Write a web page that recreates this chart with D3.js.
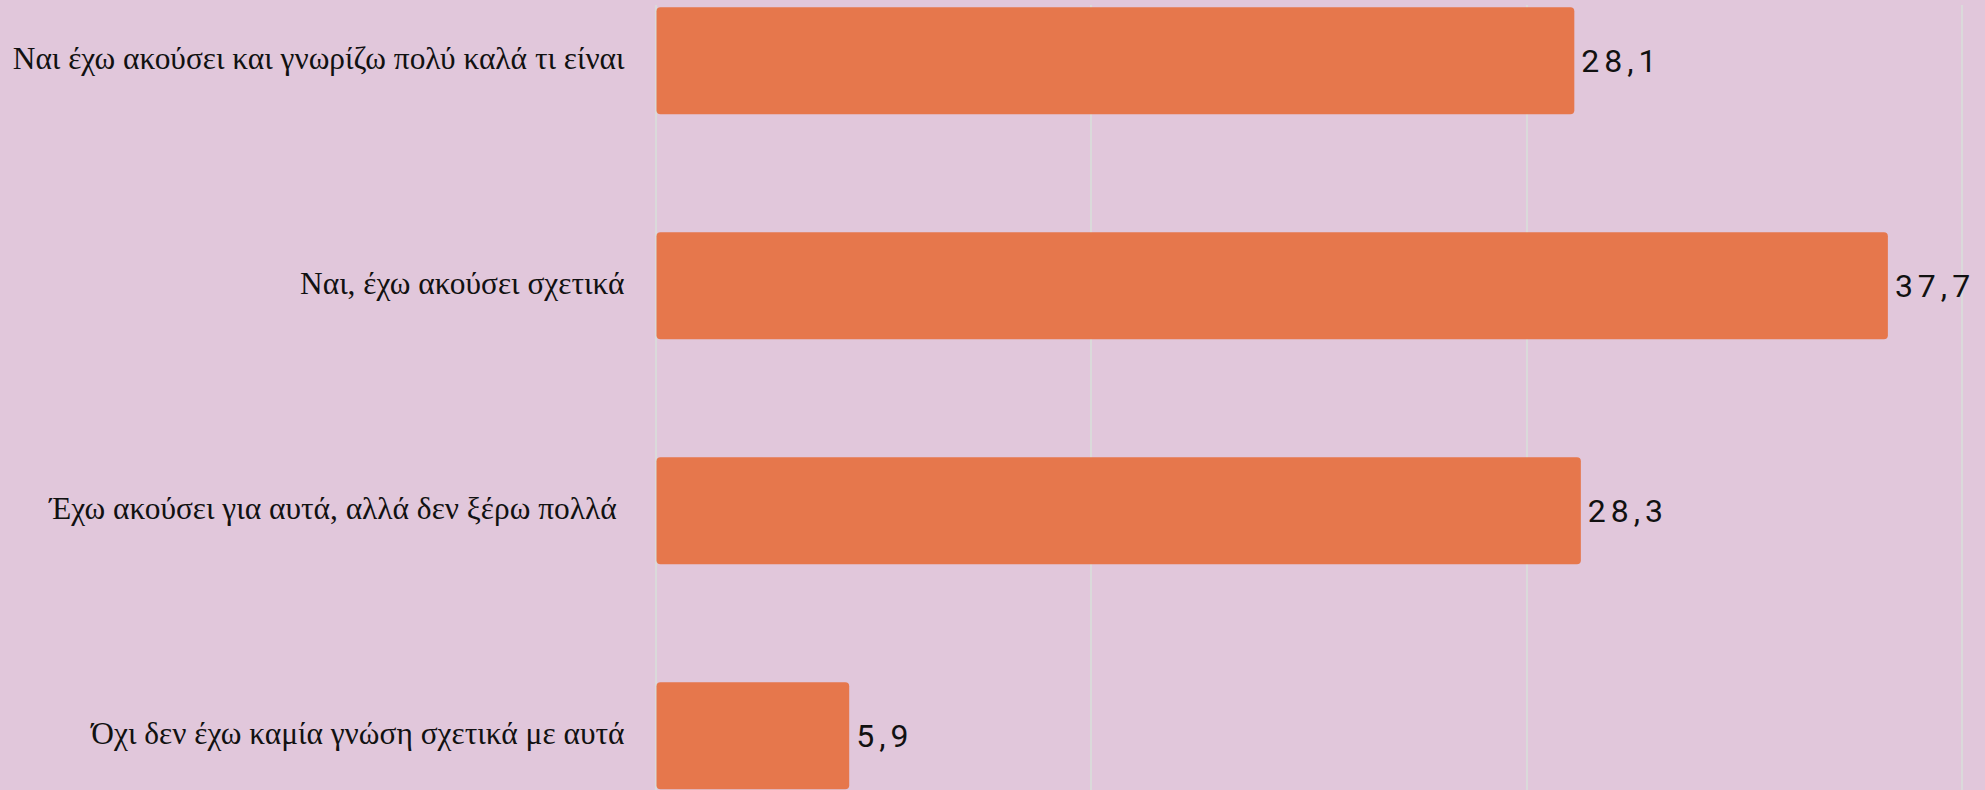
<!DOCTYPE html>
<html lang="el">
<head>
    <meta charset="UTF-8">
    <title>Chart</title>
    <script src="https://cdn.jsdelivr.net/npm/d3@7"></script>
    <style>
        html, body { margin: 0; padding: 0; background: #e1c7db; }
        svg { display: block; }
    </style>
</head>
<body>
    <svg width="1985" height="790"></svg>

    <script>
        // answers and shares (%)
        var categories = [
            "Ναι έχω ακούσει και γνωρίζω πολύ καλά τι είναι",
            "Ναι, έχω ακούσει σχετικά",
            "Έχω ακούσει για αυτά, αλλά δεν ξέρω πολλά ",
            "Όχι δεν έχω καμία γνώση σχετικά με αυτά"
        ];
        var values = [28.1, 37.7, 28.3, 5.9];
        var valueLabels = ["28,1", "37,7", "28,3", "5,9"];
        var gridTicks = [0, 40 / 3, 80 / 3, 40];

        var svg = d3.select("svg"),
            width = +svg.attr("width"),
            height = +svg.attr("height");

        var left = 656.5, right = 1963;

        var x = d3.scaleLinear().domain([0, 40]).range([left, right]);
        // step 225, bar 107 high
        var y = d3.scaleBand()
            .domain(categories)
            .range([7.3, 7.3 + 3 * 225 + 107])
            .paddingInner(1 - 107 / 225)
            .paddingOuter(0);

        // vertical grid
        svg.append("g")
            .selectAll("line")
            .data(gridTicks)
            .enter().append("line")
              .attr("x1", function(d) { return Math.round(x(d)) - 1; })
              .attr("x2", function(d) { return Math.round(x(d)) - 1; })
              .attr("y1", 5)
              .attr("y2", height)
              .attr("stroke", "#dadada")
              .attr("stroke-width", 2);

        // bars
        svg.append("g")
            .selectAll("rect")
            .data(values)
            .enter().append("rect")
              .attr("x", x(0))
              .attr("y", function(d, i) { return y(categories[i]); })
              .attr("width", function(d) { return x(d) - x(0); })
              .attr("height", y.bandwidth())
              .attr("rx", 4)
              .attr("fill", "#e6774c");

        // value labels
        svg.append("g")
            .selectAll("text")
            .data(values)
            .enter().append("text")
              .attr("x", function(d) { return x(d) + 7; })
              .attr("y", function(d, i) { return y(categories[i]) + y.bandwidth() / 2 + 11.5; })
              .attr("font-family", "Roboto, sans-serif")
              .attr("font-size", 32)
              .attr("letter-spacing", 5)
              .attr("fill", "#111")
              .text(function(d, i) { return valueLabels[i]; });

        // category labels
        svg.append("g")
            .selectAll("text")
            .data(categories)
            .enter().append("text")
              .attr("x", left - 32)
              .attr("y", function(d) { return y(d) + y.bandwidth() / 2 + 8; })
              .attr("text-anchor", "end")
              .attr("font-family", "'Liberation Serif', serif")
              .attr("font-size", 31.4)
              .attr("fill", "#111")
              .style("white-space", "pre")
              .text(function(d) { return d; });
    </script>
</body>
</html>
